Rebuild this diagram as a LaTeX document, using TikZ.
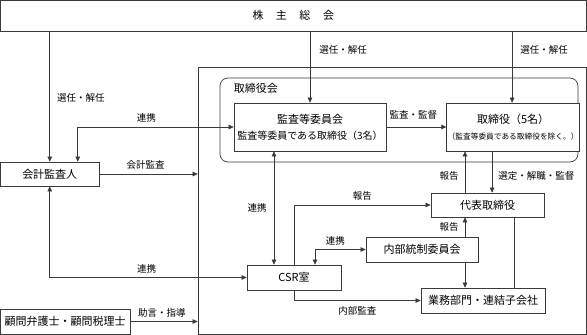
\documentclass[tikz,border=0pt]{standalone}
\usepackage{fontspec}
\setmainfont{Noto Sans CJK JP}
\definecolor{LineGray}{HTML}{3a3a3a}
\usepackage{tikz}
\usetikzlibrary{positioning, arrows.meta, calc}

\begin{document}
\begin{tikzpicture}[
  x=1pt, y=-1pt,
  >={Triangle[length=5pt,width=4.5pt]},
  box/.style={draw=LineGray, line width=0.7pt, fill=white, align=center,
              inner sep=1pt, minimum height=25pt,
              font=\fontsize{11}{13}\selectfont},
  frame/.style={draw=LineGray, line width=0.7pt},
  board/.style={frame, rounded corners=8pt},
  lbl/.style={font=\fontsize{9.5}{11}\selectfont, inner sep=1pt, text=black},
  arr/.style={->, line width=0.6pt, LineGray},
  arr2/.style={<->, line width=0.6pt, LineGray},
  lne/.style={line width=0.6pt, LineGray}
]
  \useasboundingbox (0,0) rectangle (587,335);

  % Frames
  \node[frame, minimum width=388pt, minimum height=267pt] (company) at (392,200.5) {};
  \node[board, minimum width=358pt, minimum height=84pt] (board) at (399,120) {};
  \node[anchor=west, font=\fontsize{11}{13}\selectfont, inner sep=0pt]
    (boardlbl) at ([xshift=14pt, yshift=-11pt]board.north west) {取締役会};

  % Shareholders
  \node[box, minimum width=585.5pt, minimum height=30.5pt] (soukai) at (293.25,15.75)
    {株\hspace{12.5pt}主\hspace{12.5pt}総\hspace{12.5pt}会};

  % Board members
  \node[box, minimum width=152pt, minimum height=48pt] (kansa) at (310,127)
    {監査等委員会\\[3pt]{\fontsize{10}{12}\selectfont 監査等委員である取締役（3名）}};
  \node[box, minimum width=126pt, minimum height=48pt, right=60pt of kansa] (tori)
    {取締役（5名）\\[3pt]{\fontsize{7.7}{9}\selectfont （監査等委員である取締役を除く。）}};

  % Left side
  \node[box, minimum width=98.5pt, minimum height=24pt] (kaikei) at (49.75,174) {会計監査人};
  \node[box, minimum width=129.5pt] (komon) at (65.25,321.5) {顧問弁護士・顧問税理士};

  % Executive side
  \node[box, minimum width=113pt, minimum height=24pt] (daihyo) at (487.5,205) {代表取締役};
  \node[box, minimum width=112pt] (naibu) at (422,249.5) {内部統制委員会};
  \node[box, minimum width=94pt] (csr) at (294,277.5) {CSR室};
  \node[box, minimum width=124pt] (gyomu) at (483,300.5) {業務部門・連結子会社};

  % Arrows from shareholders
  \draw[arr] (soukai.south -| kaikei.north) -- (kaikei.north)
    node[lbl, right=6pt, pos=0.51] {選任・解任};
  \draw[arr] (soukai.south -| kansa.north) -- (kansa.north)
    node[lbl, right=8pt, pos=0.26] {選任・解任};
  \draw[arr] ([xshift=-1pt]soukai.south -| tori.north) -- ([xshift=-1pt]tori.north)
    node[lbl, right=7pt, pos=0.26] {選任・解任};

  % Audit links
  \draw[arr2] (kansa.west) -| ([xshift=28pt]kaikei.north)
    node[lbl, above=3pt, pos=0.28] {連携};
  \draw[arr] (kansa) -- (tori) node[lbl, above=6pt, pos=0.45] {監査・監督};
  \draw[arr] (kaikei.east) -- (kaikei.east -| company.west)
    node[lbl, above=3pt, pos=0.47] {会計監査};
  \draw[arr2] (kaikei.south) |- (csr.west)
    node[lbl, above=3pt, pos=0.746] {連携};
  \draw[arr] (komon.east) -- (komon.east -| company.west)
    node[lbl, above=3pt, pos=0.47] {助言・指導};
  \draw[arr2] ([xshift=-36pt]kansa.south) -- ([xshift=-36pt]kansa.south |- csr.north)
    node[lbl, left=6pt, pos=0.5] {連携};

  % CSR office
  \draw[arr] (csr.north) |- (daihyo.west) node[lbl, above=3pt, pos=0.75] {報告};
  \draw[arr2] ([xshift=21pt]csr.north) |- (naibu.west) node[lbl, above=3pt, pos=0.7] {連携};
  \draw[arr] (csr.south) |- (gyomu.west) node[lbl, below=5pt, pos=0.75] {内部監査};

  % Representative director
  \draw[arr] ([xshift=-22.5pt]daihyo.north) -- ([xshift=-22.5pt]daihyo.north |- tori.south)
    node[lbl, left=5pt, pos=0.4] {報告};
  \draw[arr] ([xshift=-21pt]tori.south) -- ([xshift=-21pt]tori.south |- daihyo.north)
    node[lbl, right=5pt, pos=0.6] {選定・解職・監督};
  \draw[arr] ([xshift=43pt]naibu.north) -- ([xshift=43pt]naibu.north |- daihyo.south)
    node[lbl, left=5pt, pos=0.5] {報告};
  \draw[arr] ([xshift=43pt]naibu.south) -- ([xshift=43pt]naibu.south |- gyomu.north);
  \draw[lne] ([xshift=26.5pt]daihyo.south) -- ([xshift=26.5pt]daihyo.south |- gyomu.north);
\end{tikzpicture}
\end{document}
